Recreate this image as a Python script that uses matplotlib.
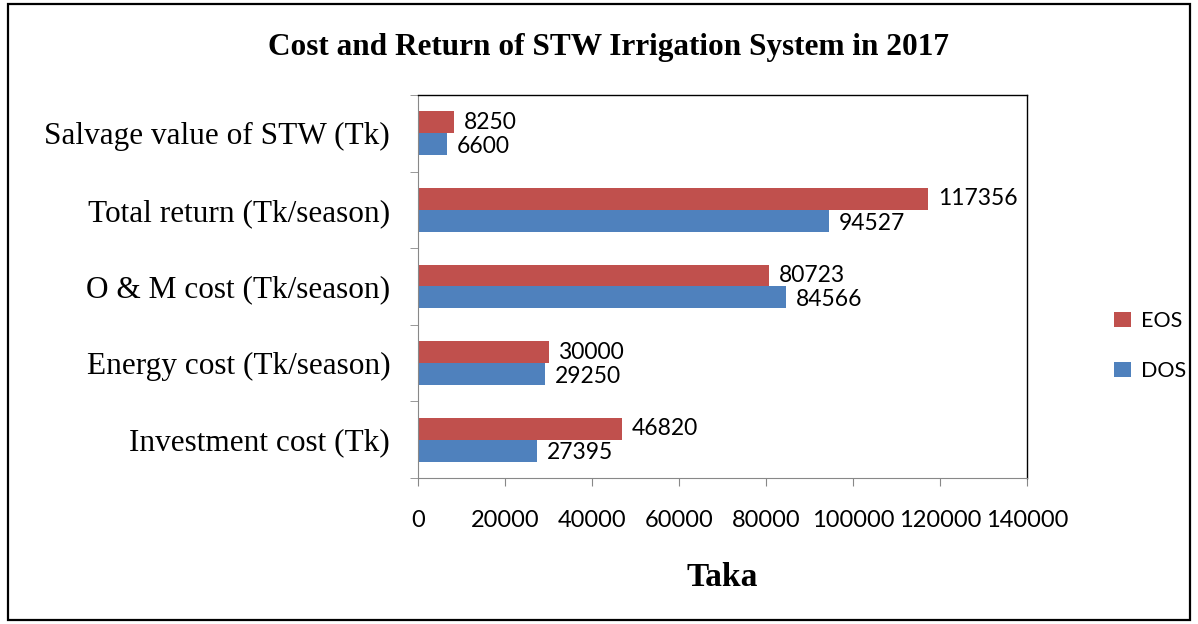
import numpy as np
import matplotlib.pyplot as plt
from matplotlib.patches import Rectangle

# Data
categories = ['Investment cost (Tk)', 'Energy cost (Tk/season)', 'O & M cost (Tk/season)',
              'Total return (Tk/season)', 'Salvage value of STW (Tk)']
eos = [46820, 30000, 80723, 117356, 8250]
dos = [27395, 29250, 84566, 94527, 6600]
xticks = [0, 20000, 40000, 60000, 80000, 100000, 120000, 140000]

red = '#C0504D'
blue = '#4F81BD'
serif = 'Liberation Serif'
sans = 'Lato'

fig = plt.figure(figsize=(11.98, 6.24), dpi=100)
ax = fig.add_axes([418/1198, 1 - 478/624, (1027-418)/1198, (478-95)/624])

# outer frame of the chart
fig.patches.append(Rectangle((8/1198, 4/624), 1182/1198, 616/624, transform=fig.transFigure,
                             fill=False, edgecolor='black', linewidth=1.6))

y = np.arange(len(categories))
h = 1 / 3.5
ax.barh(y + h/2, eos, height=h, color=red, label='EOS')
ax.barh(y - h/2, dos, height=h, color=blue, label='DOS')

for yi, v in zip(y, eos):
    ax.text(v + 2300, yi + h/2, str(v), va='center', ha='left', fontsize=16.5, family=sans)
for yi, v in zip(y, dos):
    ax.text(v + 2300, yi - h/2 - 0.03, str(v), va='center', ha='left', fontsize=16.5, family=sans)

ax.set_xlim(0, 140000)
ax.set_ylim(-0.5, len(categories) - 0.5)
ax.set_xticks(xticks)
ax.set_xticklabels([str(t) for t in xticks], fontsize=17, family=sans)
ax.set_yticks(y)
ax.set_yticklabels(categories, fontsize=22.5, family=serif)
ax.set_yticks(np.arange(-0.5, len(categories), 1), minor=True)
ax.tick_params(axis='y', which='major', length=0, pad=20)
ax.tick_params(axis='y', which='minor', length=6, direction='out', color='#888888')
ax.tick_params(axis='x', length=6, direction='out', color='#888888', pad=17)

for s in ['left', 'bottom']:
    ax.spines[s].set_color('#888888')
for s in ['top', 'right']:
    ax.spines[s].set_color('black')
    ax.spines[s].set_linewidth(1.0)

ax.set_xlabel('Taka', fontsize=24, family=serif, fontweight='bold', labelpad=22)
fig.text(608/1198, 1 - 47/624, 'Cost and Return of STW Irrigation System in 2017',
         ha='center', va='center', fontsize=22.5, family=serif, fontweight='bold')

handles, labels = ax.get_legend_handles_labels()
fig.legend(handles, labels, loc='center left', bbox_to_anchor=(1095/1198, 1 - 346/624),
           frameon=False, prop={'family': sans, 'size': 15.5}, handlelength=0.75, handleheight=0.75,
           labelspacing=1.4, handletextpad=0.5)

fig.savefig('out.png', dpi=100)
